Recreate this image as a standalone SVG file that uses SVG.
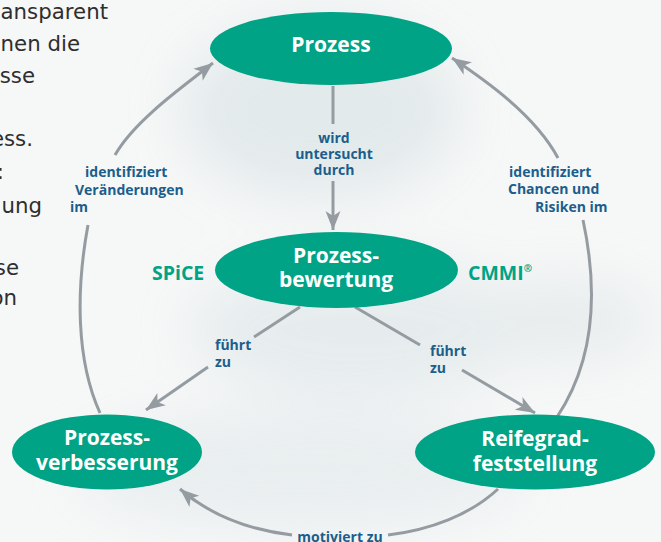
<svg xmlns="http://www.w3.org/2000/svg" width="661" height="542" viewBox="0 0 661 542">
<defs>
<filter id="blur" x="-50%" y="-50%" width="200%" height="200%"><feGaussianBlur stdDeviation="25"/></filter>
<marker id="arr" markerUnits="userSpaceOnUse" markerWidth="24" markerHeight="20" viewBox="-20 -10 22 20" refX="0" refY="0" orient="auto">
<path d="M0,0 L-19,-7.5 L-14,0 L-19,7.5 Z" fill="#959ca1"/>
</marker>
<style>
.bg{fill:#f6f7f7}
.body{font-family:"DejaVu Sans","Open Sans",sans-serif;font-size:21.3px;fill:#2e2e2e;text-anchor:end}
.node ellipse{fill:#00a385}
.node text{font-family:"Open Sans","Noto Sans",sans-serif;font-weight:bold;font-size:21px;fill:#ffffff;text-anchor:middle}
.lbl{font-family:"Open Sans","Noto Sans",sans-serif;font-weight:bold;font-size:14px;fill:#1b5e8c}
.std{font-family:"Open Sans","Noto Sans",sans-serif;font-weight:bold;font-size:19.5px;fill:#00a385}
.con{fill:none;stroke:#959ca1;stroke-width:3}
</style>
</defs>
<rect class="bg" x="0" y="0" width="661" height="542"/>
<g filter="url(#blur)" opacity="0.8">
<ellipse cx="320" cy="110" rx="140" ry="90" fill="#dfe7e9"/>
<ellipse cx="360" cy="330" rx="170" ry="70" fill="#e3eaec"/>
<ellipse cx="300" cy="470" rx="220" ry="60" fill="#e6ecee"/>
<ellipse cx="560" cy="320" rx="90" ry="40" fill="#e4eaeb"/>
</g>
<g id="bodytext">
<text class="body" x="108" y="19">ansparent</text>
<text class="body" x="80" y="51">nen die</text>
<text class="body" x="35" y="83">esse</text>
<text class="body" x="33" y="146">ess.</text>
<text class="body" x="4" y="179">:</text>
<text class="body" x="42" y="213">ung</text>
<text class="body" x="19" y="275">se</text>
<text class="body" x="17" y="305">on</text>
</g>
<g id="connectors">
<line class="con" x1="333" y1="86" x2="333" y2="124"/>
<line class="con" x1="333" y1="181" x2="333" y2="230" marker-end="url(#arr)"/>
<path class="con" d="M115,155 C135,120 185,85 213,63" marker-end="url(#arr)"/>
<path class="con" d="M88,225 C76,290 76,360 100,413"/>
<path class="con" d="M558,158 C535,115 485,80 452,58" marker-end="url(#arr)"/>
<path class="con" d="M583,220 C598,290 595,360 557,417"/>
<line class="con" x1="300" y1="307" x2="254" y2="337"/>
<line class="con" x1="208" y1="367" x2="146" y2="410" marker-end="url(#arr)"/>
<line class="con" x1="355" y1="307" x2="420" y2="345"/>
<line class="con" x1="462" y1="370" x2="535" y2="413" marker-end="url(#arr)"/>
<path class="con" d="M498,489 C470,515 430,530 388,535"/>
<path class="con" d="M292,535 C250,530 210,515 180,489" marker-end="url(#arr)"/>
</g>
<g id="labels">
<text class="lbl" text-anchor="middle"><tspan x="334" y="143">wird</tspan><tspan x="334" y="159">untersucht</tspan><tspan x="334" y="175">durch</tspan></text>
<text class="lbl"><tspan x="85" y="177">identifiziert</tspan><tspan x="75" y="195">Veränderungen</tspan><tspan x="70" y="212">im</tspan></text>
<text class="lbl"><tspan x="509" y="177">identifiziert</tspan><tspan x="508" y="194">Chancen und</tspan><tspan x="535" y="212">Risiken im</tspan></text>
<text class="lbl"><tspan x="215" y="350">führt</tspan><tspan x="215" y="367">zu</tspan></text>
<text class="lbl"><tspan x="430" y="356">führt</tspan><tspan x="430" y="373">zu</tspan></text>
<text class="lbl" x="340" y="542" text-anchor="middle">motiviert zu</text>
<text class="std" x="152" y="280">SPiCE</text>
<text class="std" x="468" y="280">CMMI<tspan font-size="10" dy="-8">®</tspan></text>
</g>
<g id="prozess" class="node">
<ellipse cx="331" cy="48.5" rx="121" ry="36.5"/>
<text x="331" y="52">Prozess</text>
</g>
<g id="prozessbewertung" class="node">
<ellipse cx="336.5" cy="270" rx="121.5" ry="38"/>
<text x="336" y="263">Prozess-</text>
<text x="336" y="287">bewertung</text>
</g>
<g id="prozessverbesserung" class="node">
<ellipse cx="107" cy="452" rx="95" ry="37.5"/>
<text x="107" y="445">Prozess-</text>
<text x="107" y="470">verbesserung</text>
</g>
<g id="reifegrad" class="node">
<ellipse cx="535" cy="452" rx="120" ry="37.5"/>
<text x="535" y="446">Reifegrad-</text>
<text x="535" y="471">feststellung</text>
</g>
</svg>
